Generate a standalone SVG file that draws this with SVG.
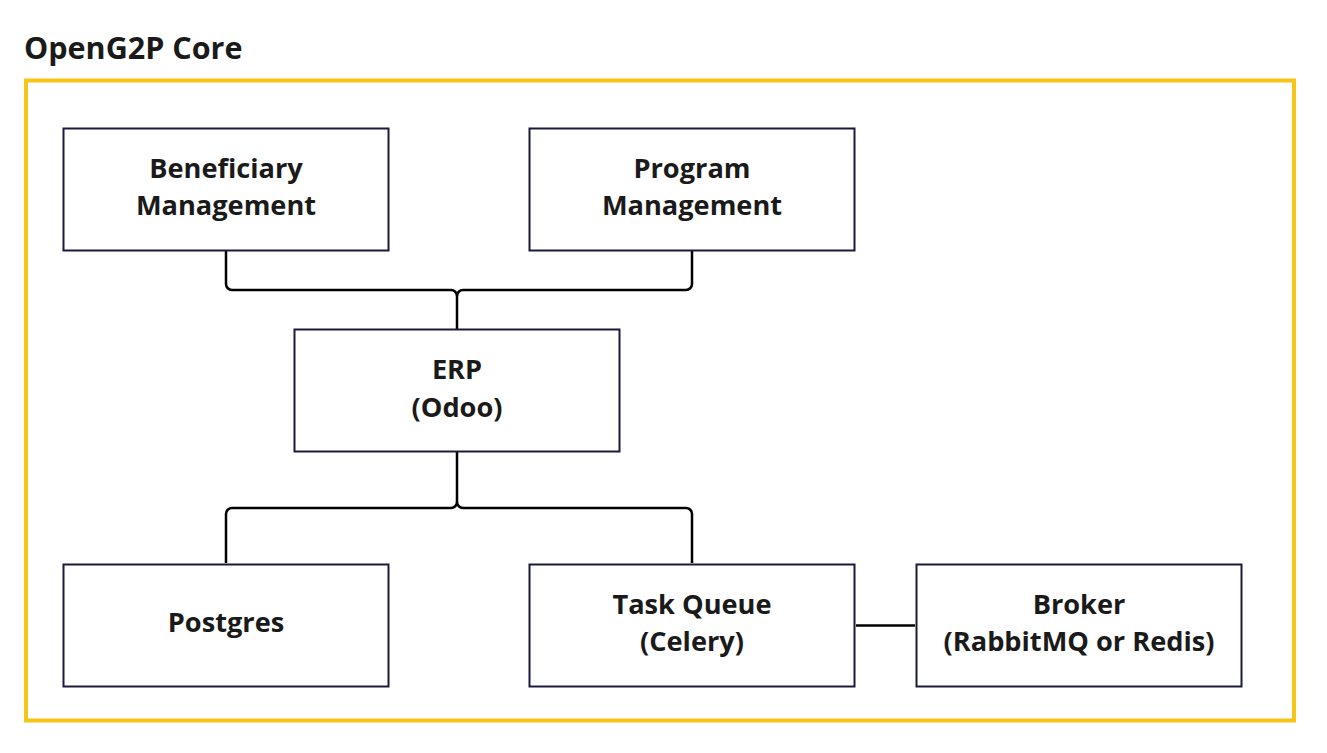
<svg xmlns="http://www.w3.org/2000/svg" width="1327" height="753" viewBox="0 0 1327 753">
<style>
.node rect{fill:#ffffff;stroke:#1b1a3d;stroke-width:2}
.node text{font-family:"Open Sans","Noto Sans",sans-serif;font-weight:bold;font-size:27.2px;fill:#1a1a1a;text-anchor:middle}
.conn path{fill:none;stroke:#000000;stroke-width:2.5}
</style>
<rect width="1327" height="753" fill="#ffffff"/>
<text x="24" y="59" font-family="Open Sans, Noto Sans, sans-serif" font-weight="bold" font-size="30.5" fill="#1a1a1a">OpenG2P Core</text>
<rect id="frame" x="26" y="80.5" width="1268" height="640" fill="none" stroke="#f5c518" stroke-width="4"/>
<g class="conn" id="connectors">
<path d="M226,251 V284 a6,6 0 0 0 6,6 H451 a6,6 0 0 1 6,6 V329"/>
<path d="M692,251 V284 a6,6 0 0 1 -6,6 H463 a6,6 0 0 0 -6,6"/>
<path d="M457,452 V502 a6,6 0 0 1 -6,6 H232 a6,6 0 0 0 -6,6 V563"/>
<path d="M457,502 a6,6 0 0 0 6,6 H686 a6,6 0 0 1 6,6 V563"/>
<path d="M856,625.5 H915"/>
</g>
<g class="node" id="beneficiary"><rect x="63.5" y="128.5" width="325" height="122"/><text x="226" y="178">Beneficiary</text><text x="226" y="215">Management</text></g>
<g class="node" id="program"><rect x="529.5" y="128.5" width="325" height="122"/><text x="692" y="178">Program</text><text x="692" y="215">Management</text></g>
<g class="node" id="erp"><rect x="294.5" y="329.5" width="325" height="122"/><text x="457" y="379">ERP</text><text x="457" y="417">(Odoo)</text></g>
<g class="node" id="postgres"><rect x="63.5" y="564.5" width="325" height="122"/><text x="226" y="632">Postgres</text></g>
<g class="node" id="taskqueue"><rect x="529.5" y="564.5" width="325" height="122"/><text x="692" y="614">Task Queue</text><text x="692" y="651">(Celery)</text></g>
<g class="node" id="broker"><rect x="916.5" y="564.5" width="325" height="122"/><text x="1079" y="614">Broker</text><text x="1079" y="651">(RabbitMQ or Redis)</text></g>
</svg>
